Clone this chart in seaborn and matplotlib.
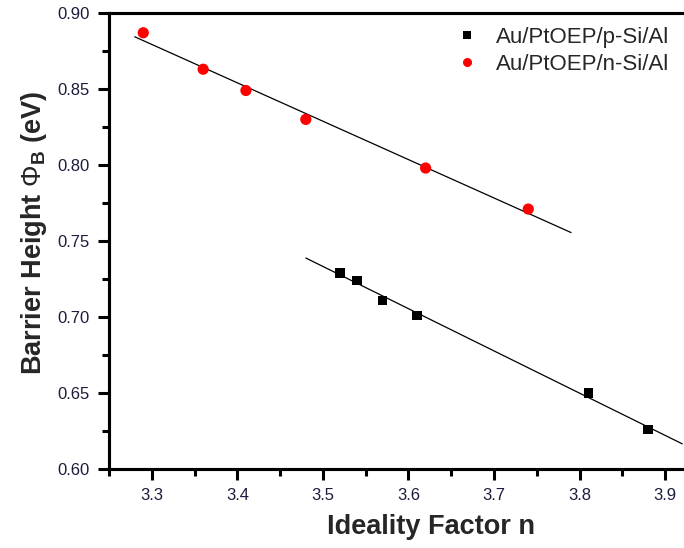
import numpy as np
import pandas as pd
import matplotlib
matplotlib.use("Agg")
import matplotlib.pyplot as plt
import seaborn as sns
from matplotlib.ticker import MultipleLocator, FormatStrFormatter

# data
p_n = [3.52, 3.54, 3.57, 3.61, 3.81, 3.88]
p_phi = [0.729, 0.724, 0.711, 0.701, 0.650, 0.626]
n_n = [3.29, 3.36, 3.41, 3.48, 3.62, 3.74]
n_phi = [0.887, 0.863, 0.849, 0.830, 0.798, 0.771]
labels = ["Au/PtOEP/p-Si/Al", "Au/PtOEP/n-Si/Al"]

# x extent of the fitted lines
p_fit_x = [3.48, 3.92]
n_fit_x = [3.28, 3.79]

df = pd.DataFrame({
    "n": p_n + n_n,
    "phi": p_phi + n_phi,
    "sample": [labels[0]] * len(p_n) + [labels[1]] * len(n_n),
})

sns.set_style("ticks", {"axes.linewidth": 2.2, "axes.edgecolor": "black",
                        "xtick.color": "black", "ytick.color": "black"})
plt.rcParams["font.family"] = ["Liberation Sans", "DejaVu Sans"]
plt.rcParams["mathtext.fontset"] = "custom"
plt.rcParams["mathtext.rm"] = "Liberation Sans"
plt.rcParams["mathtext.bf"] = "Liberation Sans:bold"

fig = plt.figure(figsize=(6.84, 5.48), dpi=100)
ax = fig.add_axes([0.1594, 0.1442, 0.8406, 0.8321])

# fitted lines
for xs, ys, fx in [(p_n, p_phi, p_fit_x), (n_n, n_phi, n_fit_x)]:
    k, b = np.polyfit(xs, ys, 1)
    fx = np.array(fx)
    ax.plot(fx, k * fx + b, color="black", lw=0.9)

sns.scatterplot(data=df, x="n", y="phi", hue="sample", style="sample",
                palette={labels[0]: "black", labels[1]: "#ff0000"},
                markers={labels[0]: "s", labels[1]: "o"},
                size="sample", sizes={labels[0]: 45, labels[1]: 65},
                linewidth=0, ax=ax, zorder=3)

ax.set_xlim(3.25, 3.922)
ax.set_ylim(0.60, 0.90)
ax.xaxis.set_major_locator(MultipleLocator(0.1))
ax.xaxis.set_minor_locator(MultipleLocator(0.05))
ax.yaxis.set_major_locator(MultipleLocator(0.05))
ax.yaxis.set_minor_locator(MultipleLocator(0.025))
ax.yaxis.set_major_formatter(FormatStrFormatter("%.2f"))
ax.xaxis.set_major_formatter(FormatStrFormatter("%.1f"))

# frame: left, bottom, top (the right side is cut off in the original)
for s in ["left", "bottom", "top"]:
    ax.spines[s].set_linewidth(2.2)
    ax.spines[s].set_color("black")
ax.spines["right"].set_visible(False)
for fx, fy in [([0, 0], [0, 1]), ([0, 1], [0, 0]), ([0, 1], [1, 1])]:
    ax.plot(fx, fy, transform=ax.transAxes, color="black", lw=2.2,
            clip_on=False, zorder=10, solid_capstyle="projecting")

ax.tick_params(which="major", length=8, width=2.2, labelsize=12,
               color="black", labelcolor="#1c1c3c", top=False, right=False,
               pad=6)
ax.tick_params(which="minor", length=5, width=2.2, color="black",
               top=False, right=False)

ax.set_xlabel("Ideality Factor n", fontsize=19.5, fontweight="bold")
ax.set_ylabel(r"Barrier Height $\Phi_\mathbf{B}$ (eV)", fontsize=19.5,
              fontweight="bold")
ax.xaxis.set_label_coords(0.56, -0.098)
ax.yaxis.set_label_coords(-0.105, 0.517)

h, l = ax.get_legend_handles_labels()
h[0].set_markersize(5.5)
h[1].set_markersize(6.5)
ax.legend(h, l, loc="upper right", bbox_to_anchor=(1.009, 1.013), frameon=False,
          fontsize=16, handletextpad=0.7, handlelength=1.2,
          labelspacing=0.25, borderpad=0.4)

fig.savefig("out.png", dpi=100)
